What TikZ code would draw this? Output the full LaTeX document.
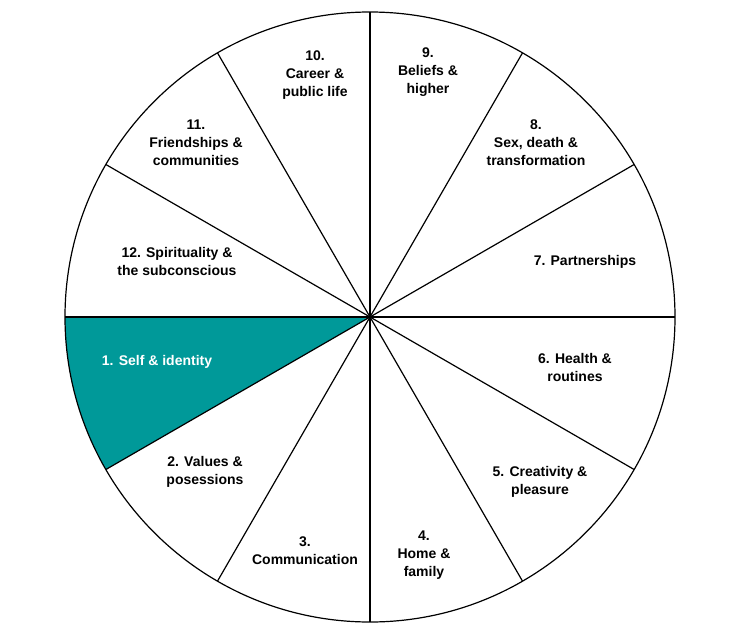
\documentclass[tikz,border=0pt]{standalone}
\usepackage{fontspec}
\setmainfont{Liberation Sans}
\definecolor{teal1}{RGB}{0,153,153}
\begin{document}
\begin{tikzpicture}[x=1pt,y=-1pt,
  lab/.style={align=center,font=\fontsize{14}{18}\selectfont\bfseries},
  edge/.style={line width=1.2pt,black}]
\useasboundingbox (0,0) rectangle (740,635);
\coordinate (c) at (370,317);
\fill[teal1] (c) -- (65,317) arc[start angle=180,end angle=150,radius=305] -- cycle;
\foreach \a in {0,30,...,330} \draw[edge] (c) -- ++({-\a}:305);
\draw[edge] (c) circle[radius=305];
\node[lab] (n10) at (315,75) {10.\\Career \&\\public life};
\node[lab] (n9) at (428,72) {9.\\Beliefs \&\\higher};
\node[lab] (n8) at (536,143) {8.\\Sex, death \&\\transformation};
\node[lab] (n11) at (196,143) {11.\\Friendships \&\\communities};
\node[lab] (n12) at (177,261) {12. Spirituality \&\\the subconscious};
\node[lab] (n7) at (585,262) {7. Partnerships};
\node[lab,white] (n1) at (157,362) {1. Self \& identity};
\node[lab] (n6) at (575,367) {6. Health \&\\routines};
\node[lab] (n2) at (205,472) {2. Values \&\\posessions};
\node[lab] (n5) at (540,482) {5. Creativity \&\\pleasure};
\node[lab] (n3) at (305,551) {3.\\Communication};
\node[lab] (n4) at (424,555) {4.\\Home \&\\family};
\end{tikzpicture}
\end{document}
